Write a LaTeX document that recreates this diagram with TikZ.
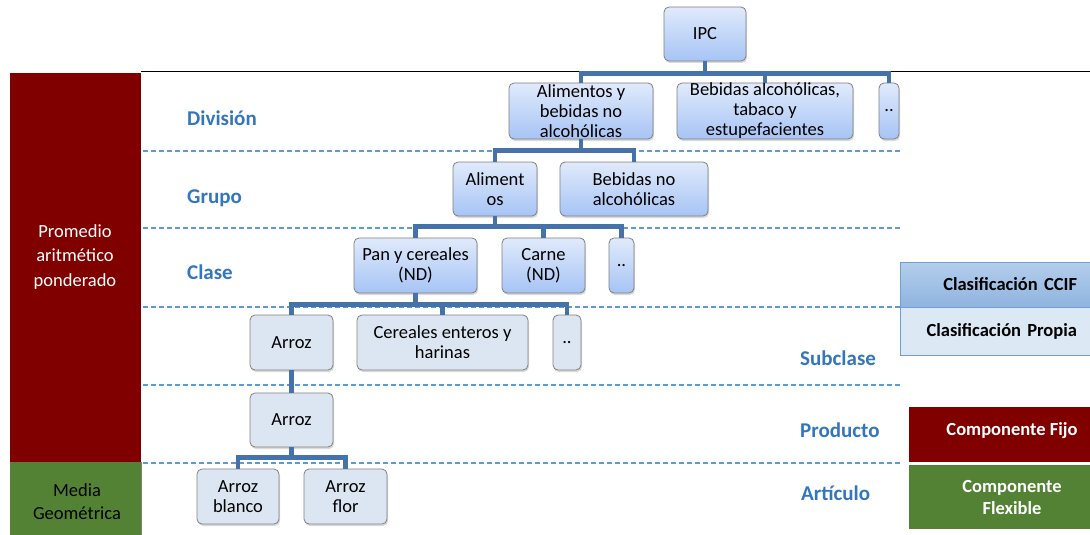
\documentclass[tikz,border=0pt]{standalone}
\usepackage{fontspec}
\setmainfont{Carlito}
\usetikzlibrary{shadows}
\definecolor{connblue}{RGB}{70,114,170}
\definecolor{boxgray}{RGB}{128,128,128}
\definecolor{gradtop}{RGB}{224,234,251}
\definecolor{gradbot}{RGB}{166,196,245}
\definecolor{flatblue}{RGB}{220,230,242}
\definecolor{levelblue}{RGB}{52,118,190}
\definecolor{sepblue}{RGB}{91,155,220}
\definecolor{darkred}{RGB}{128,0,0}
\definecolor{darkgreen}{RGB}{84,130,53}
\definecolor{ccifetop}{RGB}{180,206,236}
\definecolor{ccifebot}{RGB}{143,180,223}
\definecolor{propia}{RGB}{221,232,245}
\definecolor{legendline}{RGB}{110,160,215}

\begin{document}
\begin{tikzpicture}[x=1pt,y=-1pt,
      box/.style={
         rectangle,
         rounded corners=5pt,
         draw=boxgray,
         line width=0.8pt,
         inner sep=0pt,
         align=center,
         font=\fontsize{18.5}{20}\selectfont,
         drop shadow={shadow xshift=1pt,shadow yshift=-2pt,opacity=0.3}
      },
      catbox/.style={box,top color=gradtop,bottom color=gradbot},
      flatbox/.style={box,fill=flatblue},
      level/.style={anchor=base west,inner sep=0pt,text=levelblue,
         font=\fontsize{21}{24}\selectfont\bfseries},
      legend/.style={rectangle,inner sep=0pt,align=center,
         font=\fontsize{18.5}{22}\selectfont\bfseries},
      sep/.style={draw=sepblue,line width=1.3pt,dash pattern=on 5pt off 3pt},
      conn/.style={draw=connblue,line width=4.5pt},
      bus/.style={to path={-- ++(0,#1) -| (\tikztotarget)}}
    ]
  \useasboundingbox (0,0) rectangle (1090,535);

  % left bars
  \fill[darkred] (10,73) rectangle (141,462);
  \fill[darkgreen] (10,462) rectangle (141,535);
  \draw[boxgray,line width=0.6pt] (141,462) -- (141,535);
  \draw[black,line width=1pt] (141,72) -- (1090,72);
  \node (arith) [align=center,text=white,font=\fontsize{18.5}{24.5}\selectfont]
     at (75,257) {Promedio\\aritmético\\ponderado};
  \node (geom) [align=center,font=\fontsize{18.5}{23}\selectfont]
     at (77,502) {Media\\Geométrica};

  \foreach \y in {151,228,307,385,463}
     \draw[sep] (143,\y) -- (902,\y);

  % levels
  \node (lvdiv) [level] at (187,125) {División};
  \node (lvgrp) [level] at (187,203) {Grupo};
  \node (lvcls) [level] at (187,279) {Clase};
  \node (lvsub) [level] at (800,365) {Subclase};
  \node (lvprd) [level] at (800,437) {Producto};
  \node (lvart) [level] at (801,500.5) {Artículo};

  % tree
  \node (ipc)  [catbox,minimum width=82,minimum height=54] at (705,34) {IPC};
  \node (div1) [catbox,minimum width=144,minimum height=56] at (581,111) {Alimentos y\\bebidas no\\alcohólicas};
  \node (div2) [catbox,minimum width=176,minimum height=56] at (765,111) {Bebidas alcohólicas,\\tabaco y\\estupefacientes};
  \node (div3) [catbox,minimum width=20,minimum height=56] at (889,111) {..};
  \node (grp1) [catbox,minimum width=84,minimum height=54] at (495,189) {Aliment\\os};
  \node (grp2) [catbox,minimum width=148,minimum height=54] at (634,189) {Bebidas no\\alcohólicas};
  \node (cls1) [catbox,minimum width=123,minimum height=55] at (415.5,265.5) {Pan y cereales\\(ND)};
  \node (cls2) [catbox,minimum width=83,minimum height=55] at (543.5,265.5) {Carne\\(ND)};
  \node (cls3) [catbox,minimum width=25,minimum height=55] at (621.5,265.5) {..};
  \node (sub1) [flatbox,minimum width=83,minimum height=55] at (291.5,342.5) {Arroz};
  \node (sub2) [flatbox,minimum width=171,minimum height=55] at (442.5,342.5) {Cereales enteros y\\harinas};
  \node (sub3) [flatbox,minimum width=28,minimum height=55] at (567,342.5) {..};
  \node (prd1) [flatbox,minimum width=83,minimum height=54] at (291.5,420) {Arroz};
  \node (art1) [flatbox,minimum width=82,minimum height=55] at (238,496.5) {Arroz\\blanco};
  \node (art2) [flatbox,minimum width=83,minimum height=55] at (345.5,496.5) {Arroz\\flor};

  \foreach \a/\b/\d in {ipc/div1/12,ipc/div2/12,ipc/div3/12,
                        div1/grp1/11,div1/grp2/11,
                        grp1/cls1/10,grp1/cls2/10,grp1/cls3/10,
                        cls1/sub1/11,cls1/sub2/11,cls1/sub3/11,
                        prd1/art1/10,prd1/art2/10}
     \draw[conn] (\a.south) to[bus=\d] (\b.north);
  \draw[conn] (sub1.south) -- (prd1.north);

  % legend
  \node (ccif) [legend,draw=legendline,line width=0.8pt,top color=ccifetop,bottom color=ccifebot,
     minimum height=45,text width=159,inner xsep=18,align=right] at (997.5,284.5) {Clasificación CCIF};
  \node (prop) [legend,draw=legendline,line width=0.8pt,fill=propia,
     minimum height=48,text width=159,inner xsep=18,align=right] at (997.5,331) {Clasificación Propia};
  \node (fijo) [legend,fill=darkred,text=white,minimum width=206,minimum height=55] at (1012,434.5) {};
  \node (fijotext) [legend,text=white] at (1012,430.5) {Componente Fijo};
  \node (flex) [legend,fill=darkgreen,text=white,minimum width=206,minimum height=64] at (1012,497) {Componente\\Flexible};
\end{tikzpicture}
\end{document}
